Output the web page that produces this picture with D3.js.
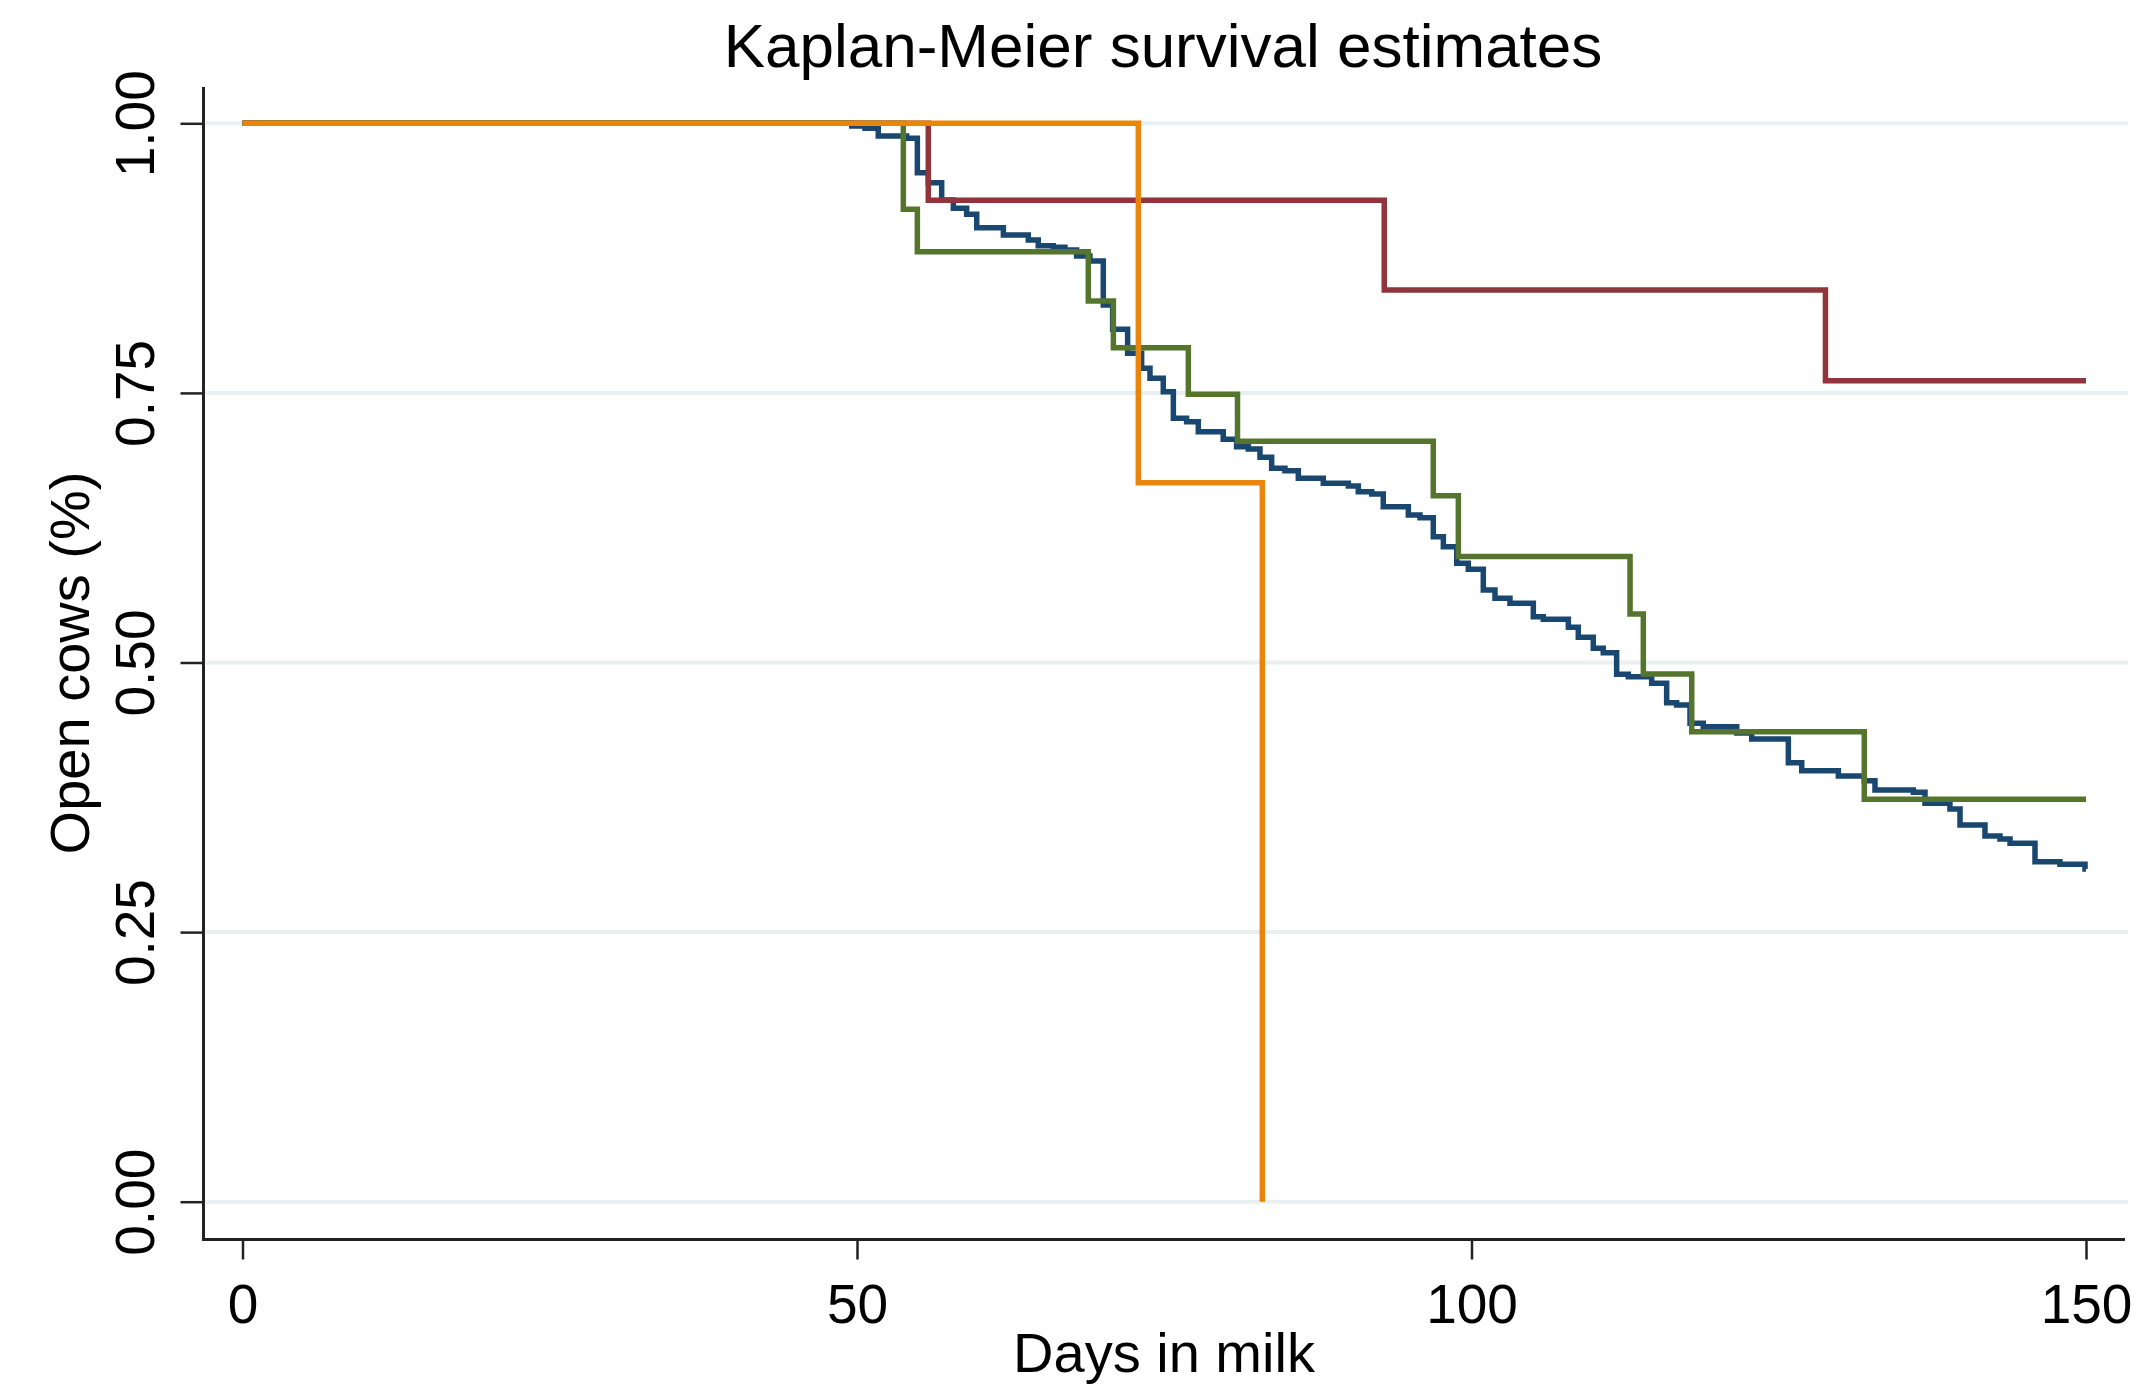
<!DOCTYPE html>
<html>
<head>
<meta charset="utf-8">
<script src="https://cdn.jsdelivr.net/npm/d3@7"></script>
<style>
  html, body { margin: 0; padding: 0; background: #ffffff; }
  svg { display: block; }
  text { font-family: "Liberation Sans", Arial, Helvetica, sans-serif; fill: #000; }
</style>
</head>
<body>
<svg id="chart" width="2131" height="1389"></svg>
<script>
// ---------------- DATA ----------------
const titleText = "Kaplan-Meier survival estimates";
const xTitle = "Days in milk";
const yTitle = "Open cows (%)";
const xTicks = [0, 50, 100, 150];
const yTicks = [0, 0.25, 0.5, 0.75, 1];
const yTickLabels = ["0.00", "0.25", "0.50", "0.75", "1.00"];

// group 1 (navy)
const blueDays = [0, 49.57, 50.65, 51.73, 54.04, 54.91, 55.80, 56.89, 57.84, 58.92, 59.74, 61.91, 63.94, 64.75, 65.97, 66.92, 67.87, 68.95, 70.04, 70.80, 72.02, 73.16, 73.84, 74.92, 75.74, 76.82, 77.77, 79.80, 80.89, 81.84, 82.79, 83.74, 84.82, 85.91, 87.94, 89.98, 90.79, 91.88, 92.82, 94.86, 95.81, 96.89, 97.71, 98.80, 99.74, 100.96, 101.91, 103.13, 105.03, 105.84, 107.88, 108.69, 109.91, 110.72, 111.81, 112.76, 114.66, 115.88, 116.69, 117.78, 118.86, 121.58, 122.80, 125.78, 126.87, 129.85, 131.96, 132.83, 135.95, 136.90, 138.93, 139.75, 141.78, 143.00, 143.82, 145.85, 147.88, 149.92, 150];
const blueSurv = [1, 0.9974, 0.9953, 0.9882, 0.9861, 0.9542, 0.9449, 0.9289, 0.9212, 0.9156, 0.9032, 0.8964, 0.8918, 0.8865, 0.8850, 0.8825, 0.8769, 0.8723, 0.8315, 0.8090, 0.7867, 0.7728, 0.7635, 0.7511, 0.7264, 0.7233, 0.7140, 0.7070, 0.7001, 0.6980, 0.6903, 0.6801, 0.6778, 0.6708, 0.6662, 0.6637, 0.6584, 0.6562, 0.6445, 0.6368, 0.6343, 0.6167, 0.6074, 0.5920, 0.5865, 0.5672, 0.5595, 0.5549, 0.5425, 0.5401, 0.5326, 0.5234, 0.5132, 0.5091, 0.4891, 0.4868, 0.4807, 0.4627, 0.4606, 0.4436, 0.4405, 0.4346, 0.4291, 0.4071, 0.3997, 0.3948, 0.3904, 0.3818, 0.3796, 0.3694, 0.3641, 0.3493, 0.3391, 0.3363, 0.3323, 0.3153, 0.3129, 0.3085, 0.3085];

// group 2 (maroon)
const redDays = [0, 55.8, 92.9, 128.8, 150];
const redSurv = [1, 0.9286, 0.8454, 0.7613, 0.7613];

// group 3 (green)
const greenDays = [0, 53.77, 54.91, 68.82, 70.86, 76.96, 80.96, 96.89, 98.93, 112.9, 113.98, 117.92, 131.96, 150];
const greenSurv = [1, 0.9203, 0.8809, 0.8352, 0.7919, 0.7487, 0.7051, 0.6547, 0.5983, 0.5450, 0.4893, 0.4358, 0.3731, 0.3731];

// group 4 (orange)
const orangeDays = [0, 72.89, 82.98];
const orangeSurv = [1, 0.6667, 0];

const seriesColors = ["#1a476f", "#90353b", "#55752f", "#e8850a"];

// ---------------- CHART ----------------
const svg = d3.select("#chart");
svg.append("rect").attr("width", 2131).attr("height", 1389).attr("fill", "#fff");

const plotLeft = 203.5, plotRight = 2125, axisY = 1239.5;
const x = d3.scaleLinear().domain([0, 150]).range([242.5, 2086]);
const y = d3.scaleLinear().domain([0, 1]).range([1201.7, 123.3]);

// gridlines
svg.append("g").selectAll("line").data(yTicks).join("line")
  .attr("x1", plotLeft + 2).attr("x2", 2128)
  .attr("y1", d => y(d)).attr("y2", d => y(d))
  .attr("stroke", "#e8f0f2").attr("stroke-width", 4);

// curves
const line = d3.line().x(d => x(d[0])).y(d => y(d[1])).curve(d3.curveStepAfter);
const seriesData = [
  d3.zip(blueDays, blueSurv),
  d3.zip(redDays, redSurv),
  d3.zip(greenDays, greenSurv),
  d3.zip(orangeDays, orangeSurv)
];
svg.append("g").selectAll("path").data(seriesData).join("path")
  .attr("d", line)
  .attr("fill", "none")
  .attr("stroke", (d, i) => seriesColors[i])
  .attr("stroke-width", 5.5)
  .attr("stroke-linejoin", "miter")
  .attr("stroke-linecap", "butt");

// x axis
const xAxis = d3.axisBottom(x).tickValues(xTicks).tickFormat(d3.format("d")).tickSize(20).tickPadding(24);
const gx = svg.append("g").attr("transform", `translate(0,${axisY})`).call(xAxis);
gx.select(".domain").remove();
gx.selectAll(".tick line").attr("stroke", "#222").attr("stroke-width", 2.5);
gx.selectAll(".tick text").attr("font-size", 55).attr("fill", "#000")
  .attr("font-family", "'Liberation Sans', Arial, sans-serif");

// y axis
const yAxis = d3.axisLeft(y).tickValues(yTicks).tickFormat((d, i) => yTickLabels[i]).tickSize(23).tickPadding(0);
const gy = svg.append("g").attr("transform", `translate(${plotLeft},0)`).call(yAxis);
gy.select(".domain").remove();
gy.selectAll(".tick line").attr("stroke", "#222").attr("stroke-width", 2.5);
gy.selectAll(".tick text")
  .attr("font-size", 55).attr("fill", "#000")
  .attr("font-family", "'Liberation Sans', Arial, sans-serif")
  .attr("x", null).attr("dy", null)
  .attr("text-anchor", "middle")
  .attr("transform", "translate(-50,0) rotate(-90)");

// axis lines
svg.append("line").attr("x1", plotLeft).attr("x2", plotLeft).attr("y1", 87).attr("y2", axisY + 1.5)
  .attr("stroke", "#222").attr("stroke-width", 3);
svg.append("line").attr("x1", plotLeft - 1.5).attr("x2", plotRight).attr("y1", axisY).attr("y2", axisY)
  .attr("stroke", "#222").attr("stroke-width", 3);

// titles
svg.append("text").attr("x", 1163).attr("y", 67).attr("text-anchor", "middle")
  .attr("font-size", 62).text(titleText);
svg.append("text").attr("x", 1164).attr("y", 1372).attr("text-anchor", "middle")
  .attr("font-size", 56).text(xTitle);
svg.append("text").attr("transform", "translate(89,663) rotate(-90)").attr("text-anchor", "middle")
  .attr("font-size", 56).text(yTitle);
</script>
</body>
</html>
